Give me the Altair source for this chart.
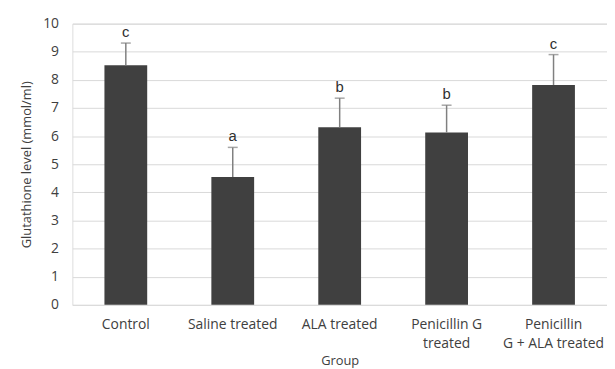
import altair as alt
import pandas as pd

groups = ["Control", "Saline treated", "ALA treated", "Penicillin G treated", "Penicillin G + ALA treated"]
means = [8.52, 4.55, 6.32, 6.13, 7.82]
uppers = [9.31, 5.60, 7.35, 7.10, 8.90]
letters = ["c", "a", "b", "b", "c"]
y_max = 10

df = pd.DataFrame({"group": groups, "mean": means, "upper": uppers, "letter": letters})

FONT = "Open Sans"
label_expr = ("datum.label == 'Penicillin G treated' ? ['Penicillin G', 'treated'] : "
              "datum.label == 'Penicillin G + ALA treated' ? ['Penicillin', 'G + ALA treated'] : datum.label")

x_axis = alt.Axis(labelAngle=0, labelExpr=label_expr, domain=False, ticks=False,
                  labelFont=FONT, labelFontSize=14, labelColor="#404040", labelPadding=13,
                  titleFont=FONT, titleFontSize=13, titleColor="#404040", titleFontWeight="normal",
                  titlePadding=4, labelLineHeight=19)
x_scale = alt.Scale(paddingInner=0.6, paddingOuter=0.3)

y_axis = alt.Axis(tickCount=y_max, tickMinStep=1, labelOverlap=False, domain=False, ticks=False,
                  gridColor="#d9d9d9",
                  labelFont=FONT, labelFontSize=14, labelColor="#404040", labelPadding=14,
                  titleFont=FONT, titleFontSize=13, titleColor="#404040", titleFontWeight="normal",
                  titlePadding=9)
y_scale = alt.Scale(domain=[0, y_max], nice=False)
Y_TITLE = "Glutathione level (mmol/ml)"


def xenc():
    return alt.X("group:N", sort=groups, title="Group", scale=x_scale, axis=x_axis)


base = alt.Chart(df)

bars = base.mark_bar(color="#404040").encode(
    x=xenc(), y=alt.Y("mean:Q", title=Y_TITLE, scale=y_scale, axis=y_axis))

err = base.mark_rule(color="#808080", strokeWidth=1.5).encode(
    x=xenc(), y="mean:Q", y2="upper:Q")

caps = base.mark_tick(color="#808080", thickness=1.5, size=10, orient="horizontal").encode(
    x=xenc(), y="upper:Q")

txt = base.mark_text(font="Liberation Sans", fontSize=15, color="#303030", dy=-11).encode(
    x=xenc(), y="upper:Q", text="letter:N")

chart = alt.layer(bars, err, caps, txt).properties(
    width=540, height=284, padding={"left": 12, "right": 0, "top": 7, "bottom": 2}
).configure_view(stroke=None).configure(background="white")

chart.save("out.html", embed_options={"renderer": "svg", "actions": False})
